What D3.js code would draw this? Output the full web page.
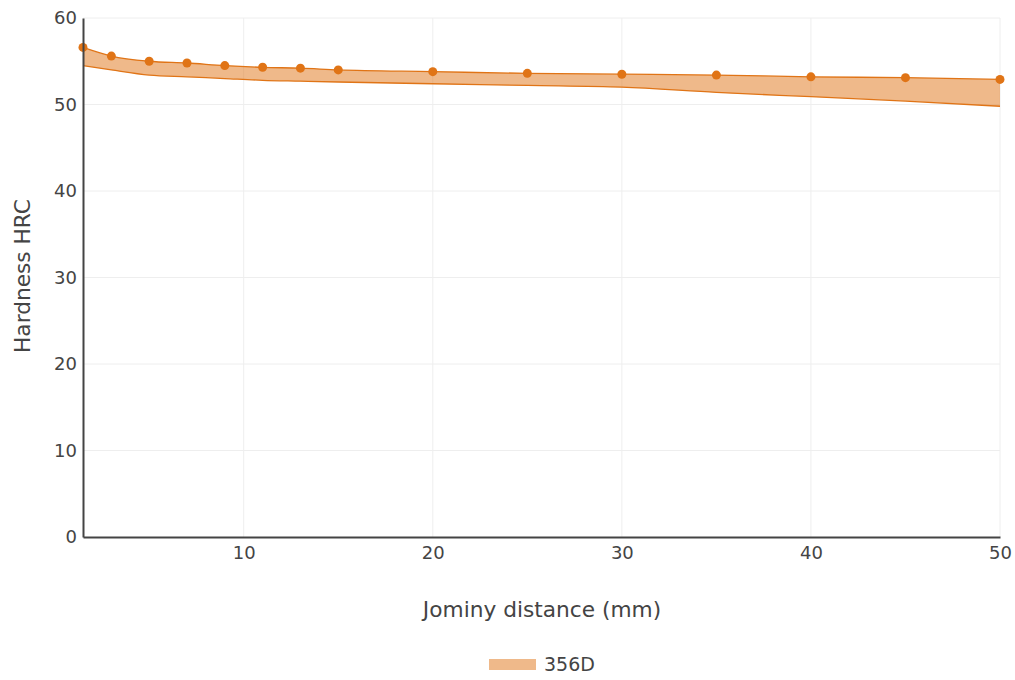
<!DOCTYPE html>
<html><head><meta charset="utf-8">
<script src="https://cdn.jsdelivr.net/npm/d3@7"></script>
<style>body{margin:0;background:#fff;} text{font-family:"DejaVu Sans",Verdana,sans-serif;fill:#444;}</style>
</head><body><svg id="c" width="1015" height="680"></svg>
<script>
const distance = [1.5, 3, 5, 7, 9, 11, 13, 15, 20, 25, 30, 35, 40, 45, 50];
const upper = [56.6, 55.6, 55.0, 54.8, 54.5, 54.3, 54.2, 54.0, 53.8, 53.6, 53.5, 53.4, 53.2, 53.1, 52.9];
const lower = [54.5, 54.0, 53.4, 53.2, 53.0, 52.8, 52.7, 52.6, 52.4, 52.2, 52.0, 51.4, 50.9, 50.4, 49.8];
const xTicks = [10, 20, 30, 40, 50];
const yTicks = [0, 10, 20, 30, 40, 50, 60];
const seriesName = "356D";

const svg = d3.select("#c");
const L = 83, R = 1000, T = 18, B = 537;
const x = d3.scaleLinear().domain([1.5, 50]).range([L, R]);
const y = d3.scaleLinear().domain([0, 60]).range([B, T]);
const col = "#e07416";
const ff = '"DejaVu Sans",Verdana,sans-serif';

const g = svg.append("g");
g.selectAll(".gx").data(xTicks).join("line").attr("x1", d => x(d)).attr("x2", d => x(d))
  .attr("y1", T).attr("y2", B).attr("stroke", "#eee").attr("stroke-width", 1);
g.selectAll(".gy").data(yTicks.filter(d => d > 0)).join("line").attr("x1", L).attr("x2", R)
  .attr("y1", d => y(d)).attr("y2", d => y(d)).attr("stroke", "#eee").attr("stroke-width", 1);

const pts = distance.map((d, i) => ({x: d, u: upper[i], l: lower[i]}));
const area = d3.area().x(d => x(d.x)).y0(d => y(d.l)).y1(d => y(d.u)).curve(d3.curveMonotoneX);
g.append("path").datum(pts).attr("d", area).attr("fill", "rgba(224,116,22,0.5)").attr("stroke", "none");
const lineU = d3.line().x(d => x(d.x)).y(d => y(d.u)).curve(d3.curveMonotoneX);
const lineL = d3.line().x(d => x(d.x)).y(d => y(d.l)).curve(d3.curveMonotoneX);
g.append("path").datum(pts).attr("d", lineL).attr("fill", "none").attr("stroke", col).attr("stroke-width", 1.3);
g.append("path").datum(pts).attr("d", lineU).attr("fill", "none").attr("stroke", col).attr("stroke-width", 1.3);
g.selectAll(".pt").data(pts).join("circle").attr("cx", d => x(d.x)).attr("cy", d => y(d.u))
  .attr("r", 4.5).attr("fill", col);

const xa = svg.append("g").attr("transform", `translate(0,${B})`)
  .call(d3.axisBottom(x).tickValues(xTicks).tickSize(0).tickPadding(9));
xa.select(".domain").attr("stroke", "#444").attr("stroke-width", 2);
xa.selectAll("text").attr("font-size", 18).attr("fill", "#444").style("font-family", ff);
const ya = svg.append("g").attr("transform", `translate(${L},0)`)
  .call(d3.axisLeft(y).tickValues(yTicks).tickSize(0).tickPadding(6));
ya.select(".domain").attr("stroke", "#444").attr("stroke-width", 2);
ya.selectAll("text").attr("font-size", 18).attr("fill", "#444").style("font-family", ff);

svg.append("text").attr("x", (L + R) / 2 + 0.5).attr("y", 617).attr("text-anchor", "middle")
  .attr("font-size", 21.7).text("Jominy distance (mm)");
svg.append("text").attr("transform", `translate(30,276) rotate(-90)`).attr("text-anchor", "middle")
  .attr("font-size", 21.7).text("Hardness HRC");

svg.append("rect").attr("x", 489).attr("y", 659).attr("width", 47).attr("height", 11)
  .attr("fill", "rgba(224,116,22,0.5)");
svg.append("text").attr("x", 544).attr("y", 671).attr("font-size", 19).text(seriesName);
</script></body></html>
